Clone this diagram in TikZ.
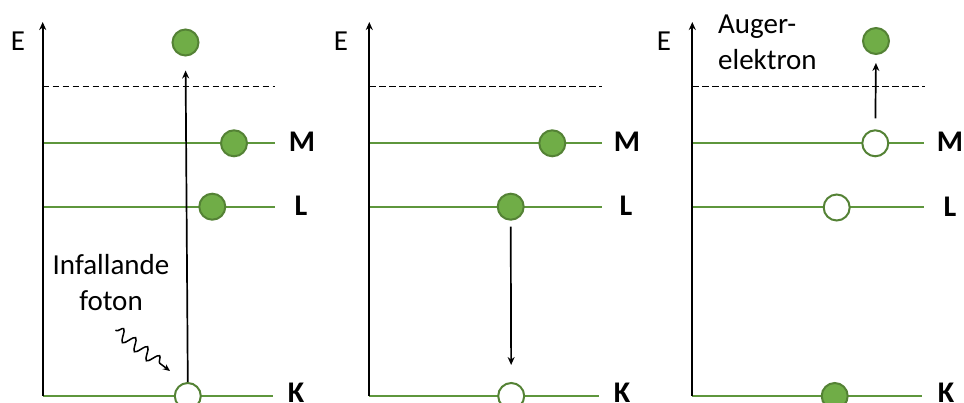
\documentclass[tikz,border=0pt]{standalone}
\usepackage{fontspec}
\setmainfont{Carlito}
\usetikzlibrary{arrows.meta,decorations.pathmorphing}
\definecolor{ballfill}{HTML}{70AD47}
\definecolor{ballline}{HTML}{548235}
\definecolor{levelline}{HTML}{5E963C}
\tikzset{
  level/.style={draw=levelline, line width=2pt},
  axis/.style={draw=black, line width=2pt, -{Stealth[length=8pt,width=7pt]}},
  ion/.style={draw=black, line width=1.5pt, dash pattern=on 6.5pt off 3.5pt},
  ball/.style={circle, minimum size=26pt, inner sep=0pt, line width=2pt, draw=ballline, fill=ballfill},
  hole/.style={circle, minimum size=26pt, inner sep=0pt, line width=2pt, draw=ballline, fill=white},
  jump/.style={draw=black, line width=1.7pt, -{Stealth[length=8pt,width=7pt]}},
  txt/.style={font=\fontsize{29}{36}\selectfont, inner sep=0pt},
  lbl/.style={font=\fontsize{30}{36}\selectfont\bfseries, inner sep=0pt, anchor=base},
}
\begin{document}
\begin{tikzpicture}[x=1pt,y=-1pt]
\useasboundingbox (0,0) rectangle (964,403);

% ---------- Panel 1 ----------
\coordinate (a1b) at (42.7,396);
\coordinate (a1t) at (42.7,22);
\coordinate (d1l) at (42.7,86.5);
\coordinate (d1r) at (275,86.5);
\coordinate (m1l) at (42.7,143.3);
\coordinate (m1r) at (275,143.3);
\coordinate (l1l) at (42.7,206.7);
\coordinate (l1r) at (275,206.7);
\coordinate (k1l) at (42.7,396);
\coordinate (k1r) at (273,396);
\draw[ion] (d1l) -- (d1r);
\draw[level] (m1l) -- (m1r);
\draw[level] (l1l) -- (l1r);
\draw[level] (k1l) -- (k1r);
\draw[axis] (a1b) -- (a1t);
\node[txt] (e1) at (18,41) {E};
\node[ball] (t1) at (185.5,42.5) {};
\node[ball] (bm1) at (234,143.3) {};
\node[ball] (bl1) at (212.3,206.7) {};
\node[hole] (bk1) at (187.8,396) {};
\draw[jump, shorten >=14pt] (bk1.north) -- (t1.south);
\node[txt, align=center, anchor=base] (inf) at (111,311) {Infallande\\foton};
\coordinate (ws) at (115.5,330);
\coordinate (we) at (170,371);
\draw[line width=1.5pt, decorate, decoration={snake, amplitude=6pt, segment length=15pt, pre length=1pt, post length=6pt}, -{Stealth[length=7pt,width=6pt]}] (ws) -- (we);
\node[lbl] (M1) at (302,151.7) {M};
\node[lbl] (L1) at (301,216) {L};
\node[lbl] (K1) at (296,402) {K};

% ---------- Panel 2 ----------
\coordinate (a2b) at (369.3,396);
\coordinate (a2t) at (369.3,22);
\coordinate (d2l) at (369.3,86.5);
\coordinate (d2r) at (601.7,86.5);
\coordinate (m2l) at (369.3,143.3);
\coordinate (m2r) at (601.7,143.3);
\coordinate (l2l) at (369.3,206.7);
\coordinate (l2r) at (601.7,206.7);
\coordinate (k2l) at (369.3,396);
\coordinate (k2r) at (599,396);
\draw[ion] (d2l) -- (d2r);
\draw[level] (m2l) -- (m2r);
\draw[level] (l2l) -- (l2r);
\draw[level] (k2l) -- (k2r);
\draw[axis] (a2b) -- (a2t);
\node[txt] (e2) at (341,41) {E};
\node[ball] (bm2) at (552.3,143.3) {};
\node[ball] (bl2) at (510.7,206.7) {};
\node[hole] (bk2) at (511.2,396) {};
\draw[jump, shorten <=6pt, shorten >=17pt] (bl2.south) -- (bk2.north);
\node[lbl] (M2) at (627,151.7) {M};
\node[lbl] (L2) at (626,215.5) {L};
\node[lbl] (K2) at (622,402) {K};

% ---------- Panel 3 ----------
\coordinate (a3b) at (692.3,396);
\coordinate (a3t) at (692.3,22);
\coordinate (d3l) at (692.3,86.5);
\coordinate (d3r) at (925,86.5);
\coordinate (m3l) at (692.3,143.3);
\coordinate (m3r) at (924,143.3);
\coordinate (l3l) at (692.3,207.5);
\coordinate (l3r) at (924,207.5);
\coordinate (k3l) at (692.3,396);
\coordinate (k3r) at (922,396);
\draw[ion] (d3l) -- (d3r);
\draw[level] (m3l) -- (m3r);
\draw[level] (l3l) -- (l3r);
\draw[level] (k3l) -- (k3r);
\draw[axis] (a3b) -- (a3t);
\node[txt] (e3) at (664,41) {E};
\node[txt, align=left, anchor=base west] (aug) at (718,70) {Auger-\\elektron};
\node[ball] (t3) at (876,41) {};
\node[hole] (bm3) at (875.3,143.3) {};
\node[hole] (bl3) at (836.7,207.5) {};
\node[ball] (bk3) at (834.7,396) {};
\draw[jump, shorten <=11pt, shorten >=8pt] (bm3.north) -- (t3.south);
\node[lbl] (M3) at (950,151.7) {M};
\node[lbl] (L3) at (950,216.7) {L};
\node[lbl] (K3) at (946,402) {K};
\end{tikzpicture}
\end{document}
